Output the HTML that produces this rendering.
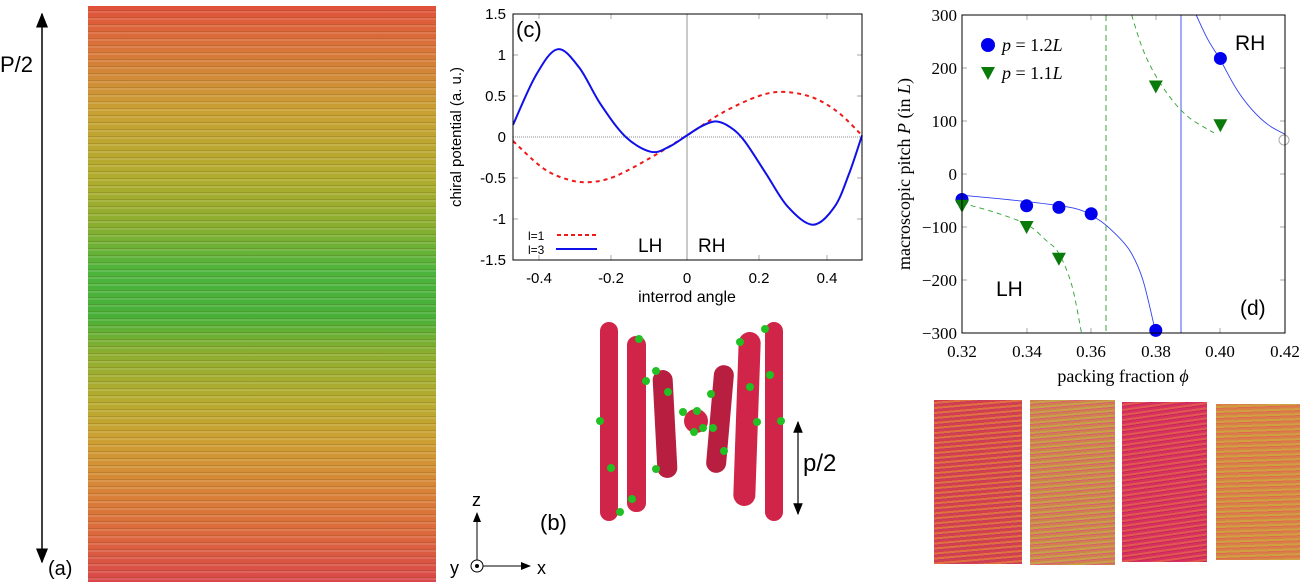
<!DOCTYPE html>
<html><head><meta charset="utf-8"><style>
body{margin:0;width:1304px;height:586px;background:#fff;overflow:hidden;position:relative;font-family:"Liberation Sans",sans-serif}
.rods{position:absolute;left:88px;top:6px;width:348px;height:576px;
background:repeating-linear-gradient(180deg,rgba(0,0,0,0) 0 4px,rgba(90,60,0,.18) 4px 5px,rgba(255,255,255,.12) 5px 7px),
linear-gradient(180deg,#e0503a 0%,#d8783a 8%,#c9a034 18%,#b0ac2e 30%,#8aae30 38%,#4cb43c 46%,#48b038 54%,#8aae30 60%,#b4ac30 68%,#cca032 75%,#d88438 84%,#dc6a3c 91%,#d9474a 100%)}
.bi{position:absolute;background:repeating-linear-gradient(175deg,#d24050 0 2px,#e07040 2px 4px,#c83c5c 4px 5px)}
</style></head><body>
<div class="rods"></div>
<div class="bi" style="left:934px;top:400px;width:88px;height:164px"></div>
<div class="bi" style="left:1030px;top:400px;width:85px;height:165px;background:repeating-linear-gradient(175deg,#d08050 0 2px,#c8a048 2px 4px,#d86070 4px 5px)"></div>
<div class="bi" style="left:1122px;top:402px;width:85px;height:160px;background:repeating-linear-gradient(172deg,#d83060 0 2px,#e05850 2px 4px,#c82858 4px 5px)"></div>
<div class="bi" style="left:1216px;top:404px;width:84px;height:156px;background:repeating-linear-gradient(178deg,#d88048 0 2px,#d0a040 2px 4px,#e06a50 4px 5px)"></div>
<svg width="1304" height="586" style="position:absolute;left:0;top:0" font-family="Liberation Sans, sans-serif">
<defs><marker id="ah" markerWidth="10" markerHeight="10" refX="9" refY="5" orient="auto-start-reverse"><path d="M0,1 L10,5 L0,9 Z" fill="#000"/></marker></defs>
<line x1="42" y1="14" x2="42" y2="562" stroke="#000" stroke-width="1.5" marker-start="url(#ah)" marker-end="url(#ah)"/>
<text x="0" y="72" font-size="22">P/2</text>
<text x="48" y="575" font-size="20">(a)</text>
<g fill="#d02448">
<rect x="600" y="322" width="18" height="199" rx="9"/>
<rect x="627" y="336" width="19" height="176" rx="9"/>
<rect x="655" y="370" width="20" height="108" rx="10" transform="rotate(-3 665 424)" fill="#b81e40"/>
<circle cx="696" cy="421" r="12"/>
<rect x="710" y="365" width="20" height="108" rx="10" transform="rotate(5 720 419)" fill="#b81e40"/>
<rect x="736" y="332" width="22" height="174" rx="11" transform="rotate(2 747 419)"/>
<rect x="765" y="322" width="18" height="199" rx="9"/>
</g>
<g fill="#22c022">
<circle cx="600" cy="421" r="4"/><circle cx="611" cy="468" r="4"/><circle cx="620" cy="512" r="4"/>
<circle cx="639" cy="339" r="4"/><circle cx="646" cy="381" r="4"/><circle cx="632" cy="499" r="4"/>
<circle cx="656" cy="371" r="4"/><circle cx="668" cy="392" r="4"/><circle cx="656" cy="469" r="4"/>
<circle cx="683" cy="412" r="4"/><circle cx="697" cy="411" r="4"/><circle cx="694" cy="432" r="4"/><circle cx="703" cy="428" r="4"/>
<circle cx="713" cy="428" r="4"/><circle cx="724" cy="451" r="4"/><circle cx="711" cy="394" r="4"/>
<circle cx="740" cy="342" r="4"/><circle cx="750" cy="387" r="4"/><circle cx="757" cy="422" r="4"/>
<circle cx="770" cy="375" r="4"/><circle cx="781" cy="421" r="4"/><circle cx="765" cy="329" r="4"/>
</g>
<line x1="798" y1="422" x2="798" y2="514" stroke="#000" stroke-width="1.2" marker-start="url(#ah)" marker-end="url(#ah)"/>
<text x="803" y="471" font-size="24">p/2</text>
<text x="540" y="530" font-size="22">(b)</text>
<circle cx="477" cy="566" r="6" fill="none" stroke="#000"/><circle cx="477" cy="566" r="2"/>
<line x1="477" y1="560" x2="477" y2="513" stroke="#000" marker-end="url(#ah)"/>
<line x1="483" y1="566" x2="530" y2="566" stroke="#000" marker-end="url(#ah)"/>
<text x="472" y="506" font-size="18">z</text><text x="537" y="574" font-size="18">x</text><text x="450" y="574" font-size="18">y</text>
<g font-size="15" text-anchor="end">
<text x="506" y="19">1.5</text><text x="506" y="60">1</text><text x="506" y="101">0.5</text><text x="506" y="142">0</text><text x="506" y="183">-0.5</text><text x="506" y="224">-1</text><text x="506" y="265">-1.5</text>
</g>
<g font-size="15" text-anchor="middle">
<text x="539" y="283">-0.4</text><text x="611" y="283">-0.2</text><text x="687" y="283">0</text><text x="759" y="283">0.2</text><text x="827" y="283">0.4</text>
</g>
<text x="687" y="302" font-size="16" text-anchor="middle">interrod angle</text>
<text transform="translate(461,137) rotate(-90)" font-size="15" text-anchor="middle">chiral potential (a. u.)</text>
<line x1="513" y1="137" x2="862" y2="137" stroke="#666" stroke-width="0.7" stroke-dasharray="1,1"/>
<line x1="687" y1="14" x2="687" y2="260" stroke="#666" stroke-width="0.7"/>
<g stroke="#888" stroke-width="0.7">
<path d="M513,55h5M513,96h5M513,178h5M513,219h5M862,55h-5M862,96h-5M862,178h-5M862,219h-5M539,260v-5M611,260v-5M759,260v-5M827,260v-5M539,14v5M611,14v5M759,14v5M827,14v5"/>
</g>
<path id="red" fill="none" stroke="#f01818" stroke-width="2" stroke-dasharray="4,4"/>
<path id="blue" fill="none" stroke="#1010e8" stroke-width="2"/>
<rect x="513" y="14" width="349" height="246" fill="none" stroke="#000" stroke-width="1"/>
<text x="516" y="37" font-size="22">(c)</text>
<text x="528" y="240" font-size="12">l=1</text><text x="528" y="254" font-size="12">l=3</text>
<line x1="557" y1="235" x2="597" y2="235" stroke="#f01818" stroke-width="2" stroke-dasharray="4,3"/>
<line x1="556" y1="249" x2="597" y2="249" stroke="#1010e8" stroke-width="2"/>
<text x="638" y="252" font-size="19">LH</text><text x="698" y="252" font-size="19">RH</text>
<g font-family="Liberation Serif, serif" font-size="17">
<g text-anchor="end">
<text x="957" y="21">300</text><text x="957" y="74">200</text><text x="957" y="127">100</text><text x="957" y="180">0</text><text x="957" y="233">−100</text><text x="957" y="286">−200</text><text x="957" y="339">−300</text>
</g>
<g text-anchor="middle">
<text x="962" y="357">0.32</text><text x="1027" y="357">0.34</text><text x="1091" y="357">0.36</text><text x="1156" y="357">0.38</text><text x="1220" y="357">0.40</text><text x="1285" y="357">0.42</text>
</g>
<text x="1123" y="382" text-anchor="middle" font-size="18">packing fraction <tspan font-style="italic">ϕ</tspan></text>
<text transform="translate(910,174) rotate(-90)" text-anchor="middle" font-size="18">macroscopic pitch <tspan font-style="italic">P</tspan> (in <tspan font-style="italic">L</tspan>)</text>
<text x="1002" y="51" font-size="18"><tspan font-style="italic">p</tspan> = 1.2<tspan font-style="italic">L</tspan></text>
<text x="1002" y="79" font-size="18"><tspan font-style="italic">p</tspan> = 1.1<tspan font-style="italic">L</tspan></text>
</g>
<g stroke="#888" stroke-width="0.7">
<path d="M962,68h5M962,121h5M962,174h5M962,227h5M962,280h5M1285,68h-5M1285,121h-5M1285,174h-5M1285,227h-5M1285,280h-5M1027,333v-5M1091,333v-5M1156,333v-5M1220,333v-5M1027,15v5M1091,15v5M1156,15v5M1220,15v5"/>
</g>
<line x1="1181" y1="15" x2="1181" y2="333" stroke="#7080f0" stroke-width="1.3"/>
<line x1="1106" y1="15" x2="1106" y2="333" stroke="#40a040" stroke-width="1" stroke-dasharray="6,4"/>
<path id="bd1" fill="none" stroke="#3040f0" stroke-width="0.9"/>
<path id="bd2" fill="none" stroke="#3040f0" stroke-width="0.9"/>
<path id="gd1" fill="none" stroke="#30a030" stroke-width="0.9" stroke-dasharray="5,4"/>
<path id="gd2" fill="none" stroke="#30a030" stroke-width="0.9" stroke-dasharray="5,4"/>
<g fill="#0000ee" id="bm"></g><g fill="#0a7a0a" id="gm"></g>
<circle cx="1284" cy="140" r="5" fill="none" stroke="#aaa"/>
<rect x="962" y="15" width="323" height="318" fill="none" stroke="#000" stroke-width="1"/>
<circle cx="988" cy="45" r="7" fill="#0000ee"/>
<path d="M981,67 L995,67 L988,80 Z" fill="#0a7a0a"/>
<text x="1235" y="50" font-size="21">RH</text><text x="996" y="296" font-size="21">LH</text><text x="1240" y="315" font-size="21">(d)</text>
</svg>
<script>
function cr(pts){var d="M"+pts[0][0].toFixed(1)+","+pts[0][1].toFixed(1);
for(var i=0;i<pts.length-1;i++){var p0=pts[i-1]||pts[i],p1=pts[i],p2=pts[i+1],p3=pts[i+2]||p2;
d+=" C"+(p1[0]+(p2[0]-p0[0])/6).toFixed(1)+","+(p1[1]+(p2[1]-p0[1])/6).toFixed(1)+" "+(p2[0]-(p3[0]-p1[0])/6).toFixed(1)+","+(p2[1]-(p3[1]-p1[1])/6).toFixed(1)+" "+p2[0].toFixed(1)+","+p2[1].toFixed(1);}return d;}
function cx(x){return 687+x*360} function cy(y){return 137-y*82}
function mc(a){return a.map(function(p){return [cx(p[0]),cy(p[1])]})}
document.getElementById("blue").setAttribute("d",cr(mc([[-0.483,0.15],[-0.42,0.75],[-0.36,1.07],[-0.3,0.85],[-0.24,0.4],[-0.17,0],[-0.1,-0.18],[-0.05,-0.12],[0,0.02],[0.04,0.13],[0.08,0.19],[0.12,0.12],[0.16,-0.05],[0.22,-0.45],[0.28,-0.85],[0.35,-1.07],[0.41,-0.85],[0.45,-0.45],[0.486,0.02]])));
document.getElementById("red").setAttribute("d",cr(mc([[-0.483,-0.05],[-0.4,-0.38],[-0.33,-0.52],[-0.27,-0.55],[-0.2,-0.48],[-0.1,-0.25],[0,0.02],[0.1,0.3],[0.2,0.5],[0.27,0.55],[0.35,0.48],[0.42,0.3],[0.486,0.02]])));
function dx(x){return 962+(x-0.32)*3230} function dy(y){return 174-y*0.53}
function md(a){return a.map(function(p){return [dx(p[0]),dy(p[1])]})}
document.getElementById("bd1").setAttribute("d",cr(md([[0.32,-40],[0.34,-52],[0.355,-65],[0.362,-85],[0.367,-110],[0.372,-145],[0.376,-200],[0.38,-300]])));
document.getElementById("bd2").setAttribute("d",cr(md([[0.3925,300],[0.396,255],[0.40,215],[0.405,160],[0.41,120],[0.415,92],[0.42,75]])));
document.getElementById("gd1").setAttribute("d",cr(md([[0.32,-55],[0.33,-72],[0.34,-95],[0.346,-125],[0.35,-150],[0.354,-210],[0.357,-300]])));
document.getElementById("gd2").setAttribute("d",cr(md([[0.3725,300],[0.376,235],[0.38,185],[0.385,140],[0.39,108],[0.395,88],[0.398,78]])));
var s="";[[0.32,-48],[0.34,-60],[0.35,-63],[0.36,-75],[0.38,-295],[0.40,218]].forEach(function(p){s+='<circle cx="'+dx(p[0])+'" cy="'+dy(p[1])+'" r="6.5"/>'});
document.getElementById("bm").innerHTML=s;s="";
[[0.32,-60],[0.34,-100],[0.35,-160],[0.38,165],[0.40,92]].forEach(function(p){var x=dx(p[0]),y=dy(p[1]);s+='<path d="M'+(x-7)+','+(y-6)+' L'+(x+7)+','+(y-6)+' L'+x+','+(y+7)+' Z"/>'});
document.getElementById("gm").innerHTML=s;
</script>
</body></html>
